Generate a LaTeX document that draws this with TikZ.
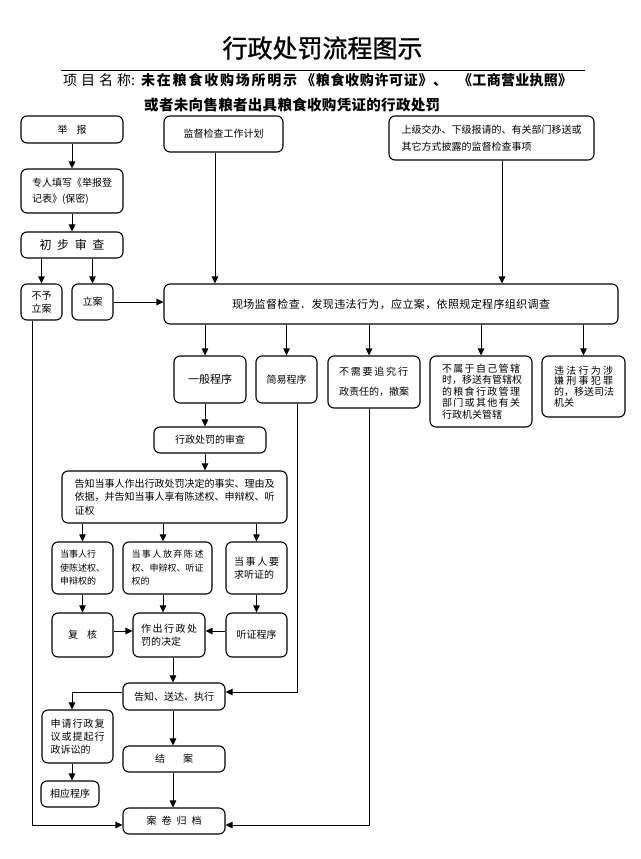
\documentclass[tikz,border=0pt]{standalone}
\usepackage{fontspec}
\newfontfamily\cjk{Noto Sans CJK SC}
\newfontfamily\cjktitle[FakeBold=1.2]{Noto Sans CJK SC}
\usetikzlibrary{arrows.meta}
\ExplSyntaxOn
\NewDocumentCommand\jst{mm}{\makebox[#1][s]{\tl_map_inline:nn{#2}{##1\hfil}\unskip}}
\ExplSyntaxOff
\newcommand\bx[7]{\node[box,minimum width={#4-#2},minimum height={#5-#3},#6] (#1) at ({(#2+#4)/2},{(#3+#5)/2}) {#7};}
\begin{document}
\begin{tikzpicture}[x=1pt,y=-1pt,
  box/.style={draw, line width=1.1pt, rounded corners=6pt, inner sep=0pt, font=\cjk\fontsize{10}{13}\selectfont, align=center},
  arr/.style={line width=0.9pt, -{Triangle[length=7pt,width=6.5pt]}},
  hd/.style={anchor=west, inner sep=0pt}]
\useasboundingbox (0,0) rectangle (640,859);
\fill[white] (0,0) rectangle (640,859);

% header
\node[font=\cjktitle\fontsize{25}{30}\selectfont] (title) at (322.5,48) {行政处罚流程图示};
\coordinate (hl1) at (61,70); \coordinate (hl2) at (585,70);
\draw[line width=0.7pt] (hl1) -- (hl2);
\node[hd, font=\cjk\fontsize{14}{16}\selectfont] (proj) at (63,80) {\jst{68pt}{项目名称}:};
\node[hd, font=\cjk\bfseries\fontsize{14}{16}\selectfont] (sub1) at (141,80) {\jst{156pt}{未在粮食收购场所明示}};
\node[hd, font=\cjk\bfseries\fontsize{14}{16}\selectfont] (sub2) at (301,80) {\jst{146pt}{《粮食收购许可证》、}};
\node[hd, font=\cjk\bfseries\fontsize{14}{16}\selectfont] (sub3) at (458,80) {\jst{114pt}{《工商营业执照》}};
\node[hd, font=\cjk\bfseries\fontsize{14.5}{16}\selectfont] (sub4) at (144,105) {\jst{296pt}{或者未向售粮者出具粮食收购凭证的行政处罚}};

% boxes
\bx{jubao}{21}{116}{123}{143}{}{举\hspace{9pt}报}
\bx{plan}{164}{116}{283}{152}{}{监督检查工作计划}
\bx{upper}{389}{116}{594}{160}{align=left, font=\cjk\fontsize{10}{17}\selectfont}{上级交办、下级报请的、有关部门移送或\\其它方式披露的监督检查事项}
\bx{zhuanren}{21}{169}{123}{213}{align=left, font=\cjk\fontsize{10}{16}\selectfont}{专人填写《举报登\\记表》(保密)}
\bx{chubu}{21}{232}{123}{258}{font=\cjk\fontsize{12}{14}\selectfont}{\jst{65pt}{初步审查}}
\bx{buyu}{21}{284}{62}{320}{}{不予\\立案}
\bx{lian}{72}{284}{113}{320}{}{立案}
\bx{xianchang}{164}{284}{618}{324}{font=\cjk\fontsize{11}{13}\selectfont}{\jst{318pt}{现场监督检查．发现违法行为，应立案，依照规定程序组织调查}}
\bx{yiban}{174}{356}{246}{403}{font=\cjk\fontsize{11}{13}\selectfont}{一般程序}
\bx{jianyi}{256}{356}{317}{403}{}{简易程序}
\bx{buxu}{328}{356}{420}{408}{align=left, font=\cjk\fontsize{10}{20}\selectfont}{\jst{69pt}{不需要追究行}\\政责任的，撤案}
\bx{bushu}{430}{356}{532}{427}{align=left, font=\cjk\fontsize{10}{11.5}\selectfont}{\jst{78pt}{不属于自己管辖}\\\jst{78pt}{时，移送有管辖权}\\\jst{78pt}{的粮食行政管理}\\\jst{78pt}{部门或其他有关}\\行政机关管辖}
\bx{weifa}{542}{356}{625}{417}{align=left, font=\cjk\fontsize{10}{10.8}\selectfont}{\jst{59pt}{违法行为涉}\\\jst{59pt}{嫌刑事犯罪}\\\jst{59pt}{的，移送司法}\\机关}
\bx{shencha}{154}{427}{266}{453}{}{行政处罚的审查}
\bx{gaozhi1}{62}{471}{287}{523}{align=left, font=\cjk\fontsize{10}{13.5}\selectfont}{告知当事人作出行政处罚决定的事实、理由及\\依据，并告知当事人享有陈述权、申辩权、听\\证权}
\bx{xingshi}{52}{542}{113}{594}{align=left, font=\cjk\fontsize{9}{13.5}\selectfont}{当事人行\\使陈述权、\\申辩权的}
\bx{fangqi}{123}{542}{212}{594}{align=left, font=\cjk\fontsize{9}{13.5}\selectfont}{\jst{72pt}{当事人放弃陈述}\\权、申辩权、听证\\权的}
\bx{yaoqiu}{226}{542}{287}{594}{align=left, font=\cjk\fontsize{10}{12.5}\selectfont}{\jst{45pt}{当事人要}\\求听证的}
\bx{fuhe}{52}{613}{113}{657}{}{复\hspace{9pt}核}
\bx{zuochu}{133}{613}{205}{657}{align=left}{\jst{56pt}{作出行政处}\\罚的决定}
\bx{tingzheng}{226}{613}{287}{657}{}{听证程序}
\bx{gaozhi2}{123}{683}{225}{710}{}{告知、送达、执行}
\bx{shenqing}{42}{710}{113}{763}{align=left}{\jst{54pt}{申请行政复}\\\jst{54pt}{议或提起行}\\政诉讼的}
\bx{xiangying}{41}{781}{99}{807}{}{相应程序}
\bx{jiean}{123}{746}{225}{772}{}{结\hspace{18pt}案}
\bx{anjuan}{123}{808}{225}{834}{}{\jst{55pt}{案卷归档}}

% helper coordinates
\coordinate (c32) at (32,0);
\coordinate (c72) at (72,0);
\coordinate (c163) at (163,0);
\coordinate (c173) at (173,0);
\coordinate (c205) at (205,0);
\coordinate (c215) at (215,0);
\coordinate (c297) at (297,0);
\coordinate (c369) at (369,0);
\coordinate (c502) at (502,0);
\coordinate (r631) at (0,631);
\coordinate (r692) at (0,692);
\coordinate (r825) at (0,825);

% connectors
\draw[arr] (jubao.south) -- (zhuanren.north);
\draw[arr] (zhuanren.south) -- (chubu.north);
\draw[arr] (chubu.south -| buyu.north) -- (buyu.north);
\draw[arr] (chubu.south -| lian.north) -- (lian.north);
\draw[arr] (lian.east) -- (lian.east -| xianchang.west);
\draw[arr] (plan.south -| c215) -- (xianchang.north -| c215);
\draw[arr] (upper.south -| c502) -- (xianchang.north -| c502);
\draw[arr] (xianchang.south -| c205) -- (yiban.north -| c205);
\draw[arr] (xianchang.south -| jianyi.north) -- (jianyi.north);
\draw[arr] (xianchang.south -| c369) -- (buxu.north -| c369);
\draw[arr] (xianchang.south -| bushu.north) -- (bushu.north);
\draw[arr] (xianchang.south -| weifa.north) -- (weifa.north);
\draw[arr] (yiban.south -| c205) -- (shencha.north -| c205);
\draw[arr] (shencha.south -| c205) -- (gaozhi1.north -| c205);
\draw[arr] (gaozhi1.south -| xingshi.north) -- (xingshi.north);
\draw[arr] (gaozhi1.south -| c163) -- (fangqi.north -| c163);
\draw[arr] (gaozhi1.south -| yaoqiu.north) -- (yaoqiu.north);
\draw[arr] (xingshi.south) -- (fuhe.north);
\draw[arr] (fangqi.south -| c163) -- (zuochu.north -| c163);
\draw[arr] (yaoqiu.south) -- (tingzheng.north);
\draw[arr] (fuhe.east |- r631) -- (zuochu.west |- r631);
\draw[arr] (tingzheng.west |- r631) -- (zuochu.east |- r631);
\draw[arr] (zuochu.south -| c173) -- (gaozhi2.north -| c173);
\draw[arr] (gaozhi2.south -| c173) -- (jiean.north -| c173);
\draw[arr] (jiean.south -| c173) -- (anjuan.north -| c173);
\draw[arr] (gaozhi2.west |- r692) -| (shenqing.north -| c72);
\draw[arr] (shenqing.south -| c72) -- (xiangying.north -| c72);
\draw[arr] (jianyi.south -| c297) |- (gaozhi2.east |- r692);
\draw[arr] (buyu.south -| c32) |- (anjuan.west |- r825);
\draw[arr] (buxu.south -| c369) |- (anjuan.east |- r825);
\end{tikzpicture}
\end{document}
